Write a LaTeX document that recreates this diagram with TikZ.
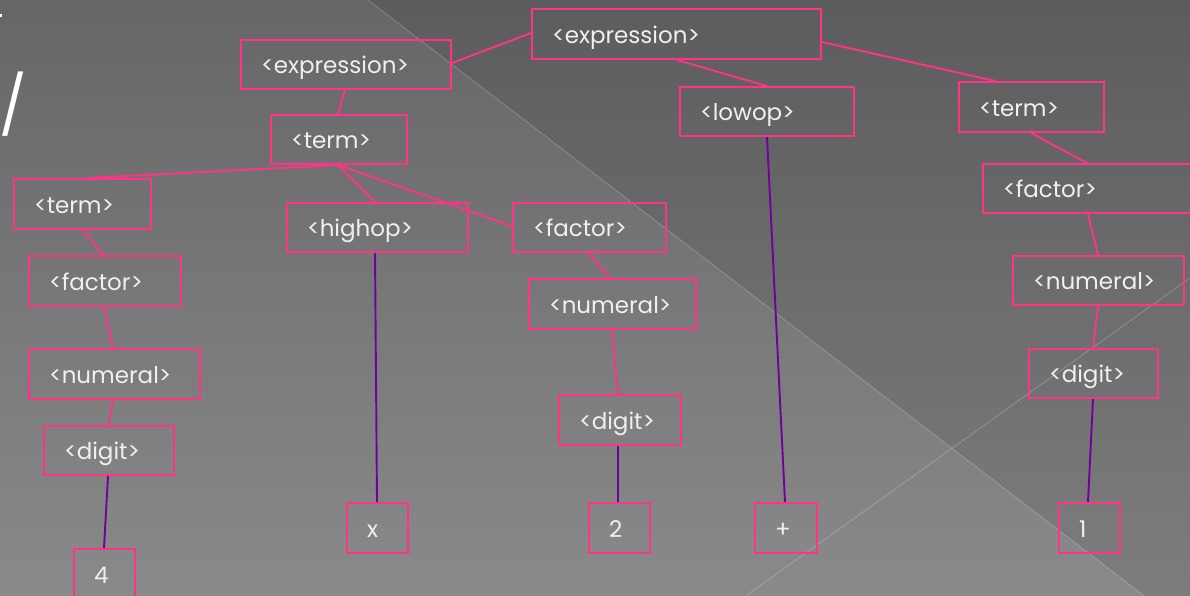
\documentclass[tikz,border=0pt]{standalone}
\usepackage{fontspec}
\setmainfont{Poppins}
\definecolor{pinkline}{HTML}{FF3388}
\definecolor{purpleline}{HTML}{7000A0}
\definecolor{txt}{HTML}{F0F0F0}
\begin{document}
\begin{tikzpicture}[x=1pt,y=-1pt,
  box/.style={draw=pinkline, line width=2pt, rectangle, anchor=north west,
    inner xsep=20pt, inner ysep=0pt, align=left, text=txt,
    font=\fontsize{23}{26}\selectfont, text height=20pt, text depth=2pt},
  tree/.style={draw=pinkline, line width=1.9pt},
  leafline/.style={draw=purpleline, line width=1.9pt},
  glare/.style={draw=white, opacity=0.28, line width=0.6pt}]
\useasboundingbox (0,0) rectangle (1190,595);
% background
\shade[top color=black!60, bottom color=black!46] (0,0) rectangle (1190,595);
\begin{scope}
\clip (0,0) rectangle (1190,595);
\fill[black, opacity=0.09] (368,0) -- (1190,0) -- (1190,631) -- cycle;
\draw[glare] (368,0) -- (1190,631);
\draw[glare] (747,595) -- (1190,278);
\end{scope}
% slide title remnants
\fill[white] (0,14) rectangle (2,17);
\node[text=white, font=\fontsize{58}{60}\selectfont, inner sep=0pt] (slash) at (13,104) {/};
% nodes
\node[box, text width=249pt, minimum height=50pt] (e1) at (531,8) {<expression>};
\node[box, text width=170pt, minimum height=49pt] (e2) at (240,39) {<expression>};
\node[box, text width=96pt, minimum height=49pt] (t1) at (270,114) {<term>};
\node[box, text width=134pt, minimum height=49pt] (lo) at (679,86) {<lowop>};
\node[box, text width=105pt, minimum height=50pt] (t2) at (958,81) {<term>};
\node[box, text width=190pt, minimum height=49pt] (f2) at (982,163) {<factor>};
\node[box, text width=131pt, minimum height=49pt] (n2) at (1012,255) {<numeral>};
\node[box, text width=89pt, minimum height=49pt] (d2) at (1028,348) {<digit>};
\node[box, text width=21pt, minimum height=50pt] (l1) at (1058,502) {1};
\node[box, text width=97pt, minimum height=50pt] (tl) at (13,178) {<term>};
\node[box, text width=112pt, minimum height=50pt] (fl) at (28,255) {<factor>};
\node[box, text width=131pt, minimum height=50pt] (nl) at (28,348) {<numeral>};
\node[box, text width=90pt, minimum height=49pt] (dl) at (43,425) {<digit>};
\node[box, text width=21pt, minimum height=50pt] (l4) at (73,548) {4};
\node[box, text width=141pt, minimum height=49pt] (hi) at (286,202) {<highop>};
\node[box, text width=113pt, minimum height=49pt] (fm) at (512,202) {<factor>};
\node[box, text width=127pt, minimum height=50pt] (nm) at (528,278) {<numeral>};
\node[box, text width=82pt, minimum height=50pt] (dm) at (558,394) {<digit>};
\node[box, text width=21pt, minimum height=50pt] (lx) at (346,502) {x};
\node[box, text width=21pt, minimum height=50pt] (l2) at (588,502) {2};
\node[box, text width=22pt, minimum height=50pt] (lp) at (754,502) {+};
% connectors
\draw[tree] ([yshift=-25pt]e1.north west) -- ([yshift=-24pt]e2.north east);
\draw[tree] ([xshift=146pt]e1.south west) -- ([xshift=88pt]lo.north west);
\draw[tree] ([yshift=-34pt]e1.north east) -- ([xshift=37pt]t2.north west);
\draw[tree] ([xshift=105pt]e2.south west) -- ([xshift=68pt]t1.north west);
\draw[tree] ([xshift=68pt]t1.south west) -- ([xshift=74pt]tl.north west);
\draw[tree] ([xshift=68pt]t1.south west) -- ([xshift=89pt]hi.north west);
\draw[tree] ([xshift=68pt]t1.south west) -- ([yshift=-24pt]fm.north west);
\draw[tree] ([xshift=69pt]tl.south west) -- ([xshift=76pt]fl.north west);
\draw[tree] ([xshift=76pt]fl.south west) -- ([xshift=85pt]nl.north west);
\draw[tree] ([xshift=85pt]nl.south west) -- ([xshift=65pt]dl.north west);
\draw[leafline] ([xshift=65pt]dl.south west) -- ([xshift=31pt]l4.north west);
\draw[leafline] ([xshift=89pt]hi.south west) -- ([xshift=31pt]lx.north west);
\draw[tree] ([xshift=77pt]fm.south west) -- ([xshift=82pt]nm.north west);
\draw[tree] ([xshift=84pt]nm.south west) -- ([xshift=60pt]dm.north west);
\draw[leafline] ([xshift=60pt]dm.south west) -- ([xshift=30pt]l2.north west);
\draw[leafline] ([xshift=88pt]lo.south west) -- ([xshift=31pt]lp.north west);
\draw[tree] ([xshift=73pt]t2.south west) -- ([xshift=105pt]f2.north west);
\draw[tree] ([xshift=106pt]f2.south west) -- ([xshift=86pt]n2.north west);
\draw[tree] ([xshift=86pt]n2.south west) -- ([xshift=65pt]d2.north west);
\draw[leafline] ([xshift=65pt]d2.south west) -- ([xshift=30pt]l1.north west);
\end{tikzpicture}
\end{document}
